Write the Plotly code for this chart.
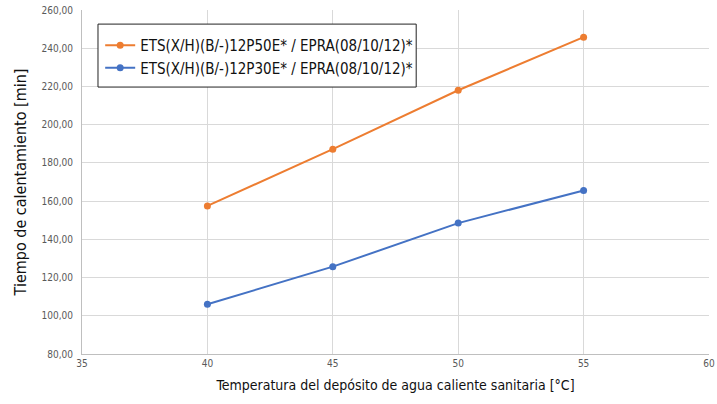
import plotly.graph_objects as go

temps = [40, 45, 50, 55]
serie_50 = [157.5, 187.2, 218.0, 245.8]
serie_30 = [106.0, 125.7, 148.5, 165.6]
name_50 = "ETS(X/H)(B/-)12P50E* / EPRA(08/10/12)*"
name_30 = "ETS(X/H)(B/-)12P30E* / EPRA(08/10/12)*"

FONT = "DejaVu Sans Condensed"

fig = go.Figure()
fig.add_trace(go.Scatter(x=temps, y=serie_50, name=name_50, mode="lines+markers",
                         line=dict(color="#ED7D31", width=2), marker=dict(size=7, color="#ED7D31")))
fig.add_trace(go.Scatter(x=temps, y=serie_30, name=name_30, mode="lines+markers",
                         line=dict(color="#4472C4", width=2), marker=dict(size=7, color="#4472C4")))

# legend frame
fig.add_shape(type="rect", xref="paper", yref="paper",
              x0=0.0255, x1=0.533, y0=0.776, y1=0.959,
              line=dict(color="#222", width=1), fillcolor="white", layer="above")

fig.update_layout(
    width=717, height=404,
    margin=dict(l=82, r=8, t=10, b=50),
    paper_bgcolor="white", plot_bgcolor="white",
    font=dict(family=FONT, color="#222"),
    legend=dict(x=0.029, y=0.945, xanchor="left", yanchor="top",
                borderwidth=0, bgcolor="rgba(0,0,0,0)",
                font=dict(size=15, family=FONT, color="#111"),
                tracegroupgap=0, itemwidth=30),
    xaxis=dict(range=[35, 60], dtick=5, tick0=35, showgrid=True, gridcolor="#D9D9D9",
               showline=True, linecolor="#BFBFBF", zeroline=False, automargin=False,
               tickfont=dict(size=10, color="#595959", family=FONT), ticks="",
               title=dict(text="Temperatura del depósito de agua caliente sanitaria [°C]",
                          font=dict(size=14, color="#111", family=FONT), standoff=12)),
    yaxis=dict(range=[80, 260], dtick=20, showgrid=True, gridcolor="#D9D9D9",
               showline=True, linecolor="#BFBFBF", zeroline=False, automargin=False,
               tickformat=".2f", ticklabelstandoff=6,
               tickfont=dict(size=10, color="#595959", family=FONT), ticks="",
               title=dict(text="Tiempo de calentamiento [min]",
                          font=dict(size=16, color="#111", family=FONT), standoff=10)),
    separators=", ",
)

fig.write_html("out.html", config={"displayModeBar": False},
               post_script="document.body.style.margin='0';")
